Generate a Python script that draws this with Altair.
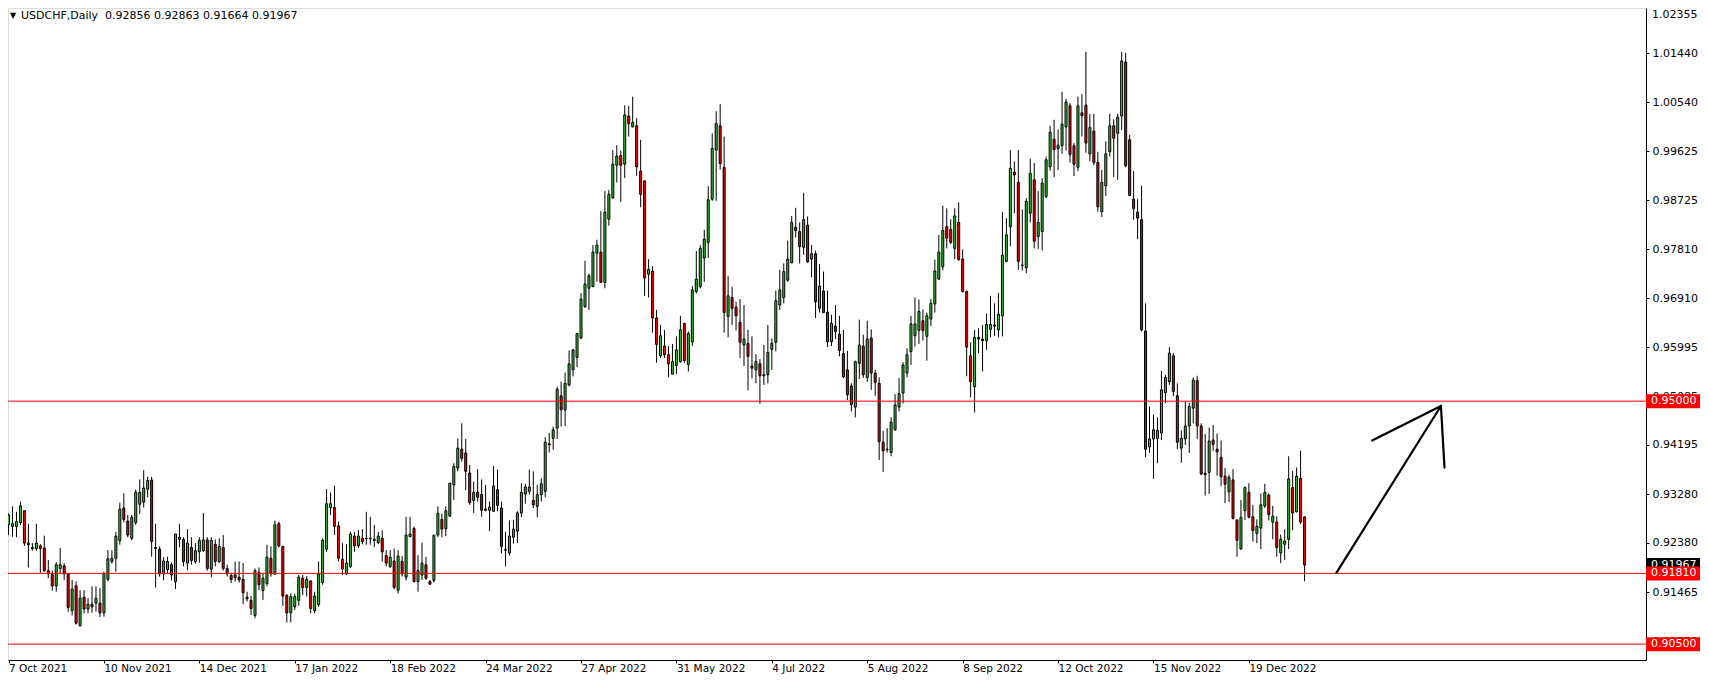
import json
import altair as alt
import pandas as pd

# ---------------- data (USDCHF daily) ----------------
opens = [0.9271,0.9268,0.9268,0.9275,0.9297,0.9237,0.9229,0.9227,0.9232,0.9228,
0.9186,0.9179,0.9158,0.9190,0.9195,0.9180,0.9112,0.9158,0.9084,0.9137,
0.9115,0.9124,0.9126,0.9126,0.9108,0.9170,0.9203,0.9209,0.9242,0.9302,
0.9278,0.9246,0.9275,0.9309,0.9313,0.9337,0.9354,0.9229,0.9226,0.9180,
0.9188,0.9197,0.9166,0.9244,0.9244,0.9200,0.9229,0.9203,0.9221,0.9223,
0.9243,0.9189,0.9235,0.9203,0.9229,0.9190,0.9177,0.9178,0.9174,0.9170,
0.9137,0.9131,0.9103,0.9183,0.9149,0.9162,0.9209,0.9180,0.9273,0.9231,
0.9140,0.9108,0.9119,0.9131,0.9172,0.9155,0.9167,0.9112,0.9123,0.9164,
0.9226,0.9303,0.9303,0.9269,0.9207,0.9180,0.9194,0.9250,0.9232,0.9246,
0.9246,0.9245,0.9244,0.9238,0.9246,0.9214,0.9194,0.9204,0.9150,0.9203,
0.9174,0.9249,0.9264,0.9166,0.9178,0.9197,0.9166,0.9168,0.9252,0.9281,
0.9264,0.9287,0.9345,0.9376,0.9411,0.9404,0.9367,0.9316,0.9331,0.9327,
0.9300,0.9298,0.9296,0.9336,0.9302,0.9225,0.9219,0.9248,0.9259,0.9293,
0.9328,0.9333,0.9316,0.9305,0.9327,0.9333,0.9421,0.9431,0.9450,0.9510,
0.9484,0.9530,0.9558,0.9581,0.9617,0.9675,0.9709,0.9712,0.9774,0.9776,
0.9720,0.9837,0.9876,0.9937,0.9955,0.9939,1.0028,1.0008,1.0010,0.9926,
0.9908,0.9735,0.9741,0.9654,0.9584,0.9602,0.9586,0.9550,0.9566,0.9573,
0.9644,0.9568,0.9610,0.9703,0.9712,0.9765,0.9794,0.9874,0.9965,1.0010,
0.9933,0.9657,0.9692,0.9674,0.9646,0.9604,0.9607,0.9565,0.9558,0.9569,
0.9547,0.9549,0.9596,0.9609,0.9678,0.9692,0.9724,0.9756,0.9822,0.9814,
0.9785,0.9826,0.9763,0.9773,0.9672,0.9704,0.9665,0.9610,0.9639,0.9624,
0.9588,0.9558,0.9528,0.9489,0.9570,0.9602,0.9544,0.9617,0.9552,0.9533,
0.9424,0.9411,0.9405,0.9447,0.9489,0.9515,0.9552,0.9592,0.9621,0.9631,
0.9649,0.9620,0.9652,0.9680,0.9726,0.9749,0.9823,0.9818,0.9783,0.9831,
0.9763,0.9703,0.9584,0.9527,0.9615,0.9615,0.9612,0.9633,0.9639,0.9632,
0.9658,0.9759,0.9823,0.9924,0.9905,0.9752,0.9747,0.9848,0.9910,0.9805,
0.9814,0.9879,0.9934,0.9985,0.9968,0.9973,1.0008,1.0047,0.9973,0.9933,
1.0034,1.0048,0.9958,1.0000,0.9942,0.9851,0.9899,0.9962,1.0010,0.9996,
1.0028,1.0128,0.9984,0.9874,0.9850,0.9836,0.9630,0.9415,0.9430,0.9431,
0.9441,0.9516,0.9536,0.9584,0.9510,0.9413,0.9430,0.9454,0.9487,0.9538,
0.9454,0.9366,0.9368,0.9428,0.9411,0.9396,0.9361,0.9332,0.9354,0.9280,
0.9226,0.9297,0.9331,0.9286,0.9255,0.9265,0.9306,0.9326,0.9276,0.9276,
0.9219,0.9235,0.9244,0.9340,0.9295,0.9357,0.92856]

highs = [0.9292,0.9305,0.9295,0.9314,0.9297,0.9273,0.9237,0.9273,0.9235,0.9251,
0.9206,0.9186,0.9202,0.9228,0.9200,0.9180,0.9169,0.9166,0.9150,0.9150,
0.9135,0.9157,0.9157,0.9154,0.9184,0.9224,0.9224,0.9258,0.9312,0.9329,
0.9289,0.9289,0.9336,0.9355,0.9372,0.9360,0.9360,0.9273,0.9231,0.9211,
0.9212,0.9201,0.9254,0.9273,0.9248,0.9263,0.9248,0.9237,0.9248,0.9293,
0.9248,0.9248,0.9244,0.9246,0.9252,0.9197,0.9182,0.9203,0.9203,0.9200,
0.9147,0.9139,0.9190,0.9192,0.9182,0.9234,0.9231,0.9279,0.9277,0.9232,
0.9143,0.9144,0.9143,0.9178,0.9178,0.9176,0.9168,0.9147,0.9203,0.9246,
0.9337,0.9331,0.9343,0.9277,0.9237,0.9235,0.9258,0.9258,0.9261,0.9263,
0.9295,0.9286,0.9271,0.9258,0.9261,0.9224,0.9224,0.9227,0.9224,0.9213,
0.9286,0.9286,0.9268,0.9215,0.9238,0.9212,0.9169,0.9252,0.9305,0.9292,
0.9305,0.9349,0.9385,0.9431,0.9459,0.9430,0.9382,0.9351,0.9374,0.9355,
0.9345,0.9314,0.9380,0.9373,0.9314,0.9258,0.9279,0.9280,0.9296,0.9348,
0.9347,0.9373,0.9370,0.9345,0.9357,0.9433,0.9441,0.9453,0.9527,0.9536,
0.9553,0.9594,0.9596,0.9626,0.9700,0.9760,0.9736,0.9789,0.9799,0.9852,
0.9889,0.9891,0.9965,0.9974,0.9964,1.0048,1.0047,1.0064,1.0024,0.9984,
0.9908,0.9763,0.9750,0.9669,0.9641,0.9632,0.9602,0.9606,0.9620,0.9658,
0.9645,0.9629,0.9713,0.9778,0.9789,0.9817,0.9898,0.9996,1.0037,1.0050,
0.9990,0.9732,0.9712,0.9684,0.9689,0.9678,0.9632,0.9620,0.9587,0.9578,
0.9604,0.9641,0.9616,0.9705,0.9743,0.9755,0.9797,0.9843,0.9858,0.9831,
0.9886,0.9842,0.9789,0.9779,0.9754,0.9740,0.9705,0.9660,0.9678,0.9658,
0.9632,0.9593,0.9533,0.9575,0.9651,0.9623,0.9649,0.9633,0.9558,0.9544,
0.9445,0.9450,0.9470,0.9513,0.9543,0.9572,0.9598,0.9658,0.9692,0.9688,
0.9670,0.9664,0.9689,0.9762,0.9808,0.9862,0.9857,0.9837,0.9857,0.9868,
0.9781,0.9705,0.9609,0.9632,0.9635,0.9641,0.9662,0.9695,0.9681,0.9700,
0.9850,0.9839,0.9965,0.9944,0.9965,0.9855,0.9876,0.9949,0.9941,0.9889,
0.9913,0.9953,1.0010,1.0021,1.0003,1.0073,1.0060,1.0052,0.9978,1.0064,
1.0069,1.0147,1.0032,1.0032,0.9962,0.9928,0.9981,1.0032,1.0022,1.0032,
1.0147,1.0145,0.9993,0.9926,0.9874,0.9899,0.9681,0.9490,0.9475,0.9470,
0.9556,0.9549,0.9600,0.9589,0.9533,0.9446,0.9499,0.9497,0.9544,0.9547,
0.9459,0.9439,0.9451,0.9456,0.9440,0.9427,0.9376,0.9364,0.9374,0.9281,
0.9317,0.9342,0.9348,0.9308,0.9281,0.9329,0.9347,0.9329,0.9306,0.9287,
0.9253,0.9263,0.9398,0.9371,0.9377,0.9408,0.92863]

lows = [0.9252,0.9249,0.9248,0.9271,0.9232,0.9192,0.9223,0.9223,0.9182,0.9184,
0.9172,0.9149,0.9147,0.9181,0.9169,0.9110,0.9103,0.9086,0.9083,0.9107,
0.9107,0.9108,0.9110,0.9100,0.9101,0.9166,0.9199,0.9184,0.9234,0.9275,
0.9248,0.9242,0.9271,0.9291,0.9303,0.9322,0.9212,0.9155,0.9175,0.9168,
0.9181,0.9168,0.9152,0.9229,0.9194,0.9187,0.9197,0.9199,0.9201,0.9221,
0.9186,0.9174,0.9194,0.9200,0.9186,0.9175,0.9163,0.9166,0.9164,0.9124,
0.9129,0.9104,0.9098,0.9150,0.9132,0.9157,0.9175,0.9178,0.9229,0.9121,
0.9090,0.9090,0.9113,0.9121,0.9141,0.9138,0.9107,0.9107,0.9119,0.9160,
0.9221,0.9289,0.9252,0.9203,0.9178,0.9178,0.9191,0.9221,0.9228,0.9235,
0.9234,0.9234,0.9230,0.9235,0.9203,0.9194,0.9191,0.9152,0.9144,0.9175,
0.9168,0.9248,0.9164,0.9147,0.9169,0.9169,0.9160,0.9164,0.9248,0.9248,
0.9250,0.9286,0.9317,0.9370,0.9388,0.9335,0.9308,0.9293,0.9314,0.9286,
0.9296,0.9259,0.9296,0.9296,0.9218,0.9194,0.9214,0.9236,0.9237,0.9285,
0.9310,0.9327,0.9302,0.9285,0.9314,0.9322,0.9405,0.9410,0.9430,0.9453,
0.9454,0.9527,0.9546,0.9563,0.9615,0.9673,0.9669,0.9712,0.9721,0.9720,
0.9709,0.9825,0.9876,0.9905,0.9869,0.9913,0.9990,1.0007,0.9917,0.9859,
0.9695,0.9692,0.9627,0.9571,0.9580,0.9580,0.9544,0.9550,0.9550,0.9571,
0.9571,0.9555,0.9602,0.9699,0.9709,0.9721,0.9765,0.9871,0.9871,0.9929,
0.9627,0.9618,0.9641,0.9631,0.9580,0.9565,0.9520,0.9542,0.9533,0.9495,
0.9530,0.9533,0.9558,0.9592,0.9669,0.9681,0.9721,0.9756,0.9803,0.9755,
0.9771,0.9756,0.9729,0.9654,0.9664,0.9663,0.9600,0.9602,0.9615,0.9583,
0.9543,0.9502,0.9481,0.9470,0.9541,0.9543,0.9536,0.9521,0.9510,0.9391,
0.9369,0.9405,0.9398,0.9445,0.9481,0.9496,0.9544,0.9567,0.9601,0.9606,
0.9612,0.9575,0.9639,0.9664,0.9725,0.9742,0.9783,0.9791,0.9763,0.9760,
0.9701,0.9546,0.9507,0.9479,0.9589,0.9555,0.9595,0.9618,0.9621,0.9618,
0.9620,0.9757,0.9787,0.9848,0.9743,0.9742,0.9737,0.9831,0.9783,0.9782,
0.9779,0.9876,0.9927,0.9915,0.9928,0.9958,0.9964,0.9942,0.9917,0.9926,
0.9990,0.9960,0.9944,0.9937,0.9851,0.9841,0.9880,0.9953,0.9915,0.9910,
1.0002,0.9933,0.9880,0.9836,0.9800,0.9629,0.9396,0.9404,0.9356,0.9385,
0.9428,0.9496,0.9530,0.9509,0.9411,0.9386,0.9419,0.9404,0.9459,0.9430,
0.9363,0.9325,0.9328,0.9408,0.9362,0.9343,0.9311,0.9313,0.9281,0.9212,
0.9226,0.9280,0.9283,0.9240,0.9237,0.9226,0.9302,0.9279,0.9244,0.9212,
0.9200,0.9206,0.9226,0.9261,0.9294,0.9272,0.91664]

closes = [0.9289,0.9273,0.9277,0.9306,0.9237,0.9234,0.9227,0.9237,0.9227,0.9186,
0.9180,0.9158,0.9197,0.9197,0.9180,0.9118,0.9152,0.9089,0.9135,0.9115,
0.9124,0.9119,0.9135,0.9108,0.9181,0.9208,0.9209,0.9250,0.9300,0.9281,
0.9252,0.9285,0.9331,0.9331,0.9339,0.9353,0.9240,0.9227,0.9180,0.9204,
0.9203,0.9178,0.9254,0.9248,0.9203,0.9237,0.9205,0.9223,0.9242,0.9243,
0.9190,0.9242,0.9203,0.9231,0.9190,0.9180,0.9170,0.9173,0.9169,0.9145,
0.9134,0.9116,0.9186,0.9160,0.9172,0.9211,0.9180,0.9271,0.9232,0.9139,
0.9108,0.9138,0.9138,0.9174,0.9155,0.9170,0.9116,0.9139,0.9180,0.9242,
0.9310,0.9310,0.9268,0.9209,0.9189,0.9200,0.9254,0.9232,0.9250,0.9240,
0.9245,0.9246,0.9242,0.9250,0.9221,0.9200,0.9211,0.9155,0.9213,0.9180,
0.9252,0.9254,0.9166,0.9186,0.9200,0.9172,0.9161,0.9252,0.9292,0.9263,
0.9297,0.9348,0.9379,0.9413,0.9394,0.9370,0.9312,0.9331,0.9322,0.9298,
0.9298,0.9304,0.9343,0.9307,0.9231,0.9224,0.9250,0.9263,0.9293,0.9331,
0.9341,0.9341,0.9308,0.9327,0.9347,0.9424,0.9419,0.9447,0.9522,0.9484,
0.9533,0.9569,0.9595,0.9625,0.9689,0.9717,0.9732,0.9776,0.9789,0.9720,
0.9850,0.9883,0.9939,0.9954,0.9937,1.0030,1.0014,1.0016,0.9934,0.9883,
0.9728,0.9744,0.9654,0.9605,0.9621,0.9586,0.9569,0.9573,0.9595,0.9632,
0.9575,0.9625,0.9706,0.9726,0.9783,0.9800,0.9873,0.9968,1.0014,0.9940,
0.9664,0.9695,0.9672,0.9658,0.9609,0.9615,0.9583,0.9561,0.9573,0.9547,
0.9549,0.9590,0.9607,0.9686,0.9706,0.9740,0.9763,0.9831,0.9816,0.9786,
0.9836,0.9758,0.9773,0.9684,0.9713,0.9664,0.9610,0.9644,0.9629,0.9594,
0.9545,0.9512,0.9494,0.9573,0.9604,0.9549,0.9615,0.9552,0.9535,0.9425,
0.9408,0.9410,0.9461,0.9493,0.9514,0.9567,0.9586,0.9643,0.9643,0.9666,
0.9631,0.9658,0.9681,0.9741,0.9776,0.9816,0.9802,0.9794,0.9843,0.9762,
0.9703,0.9600,0.9536,0.9618,0.9618,0.9612,0.9642,0.9642,0.9641,0.9661,
0.9770,0.9808,0.9931,0.9919,0.9759,0.9751,0.9870,0.9922,0.9796,0.9831,
0.9904,0.9947,0.9998,0.9966,0.9974,1.0013,1.0054,0.9957,0.9939,1.0047,
1.0029,0.9978,1.0007,0.9942,0.9860,0.9905,0.9958,1.0010,0.9987,1.0026,
1.0130,0.9936,0.9881,0.9857,0.9839,0.9632,0.9411,0.9430,0.9447,0.9446,
0.9521,0.9544,0.9589,0.9518,0.9424,0.9431,0.9454,0.9490,0.9539,0.9454,
0.9365,0.9364,0.9426,0.9420,0.9406,0.9360,0.9346,0.9359,0.9283,0.9242,
0.9285,0.9340,0.9285,0.9260,0.9268,0.9308,0.9331,0.9290,0.9287,0.9229,
0.9244,0.9241,0.9356,0.9293,0.9361,0.9276,0.91967]

tick_bars = [0, 24, 48, 72, 96, 120, 144, 168, 192, 216, 240, 264, 288, 312]
tick_labels = ["7 Oct 2021", "10 Nov 2021", "14 Dec 2021", "17 Jan 2022",
               "18 Feb 2022", "24 Mar 2022", "27 Apr 2022", "31 May 2022",
               "4 Jul 2022", "5 Aug 2022", "8 Sep 2022", "12 Oct 2022",
               "15 Nov 2022", "19 Dec 2022"]
top_price_label = "1.02355"
price_ticks = [1.01440, 1.00540, 0.99625, 0.98725, 0.97810, 0.96910,
               0.95995, 0.95085, 0.94195, 0.93280, 0.92380, 0.91465, 0.90550]
level_prices = [0.95000, 0.91810, 0.90500]
level_texts = ["0.95000", "0.91810", "0.90500"]
last_price = 0.91967
header = "USDCHF,Daily\u00a0\u00a00.92856 0.92863 0.91664 0.91967"

arrow_seg = [0, 0, 1, 1, 2, 2]
arrow_bar = [334.0, 360.3, 343.0, 360.3, 360.3, 361.2]
arrow_price = [0.9182, 0.9491, 0.9427, 0.9491, 0.9491, 0.9377]

# ---------------- chart ----------------
W, H = 1638, 652
RP, BP = 54, 16          # room for right price labels / bottom date labels
GREEN, RED = "#33c833", "#ff0000"

n = len(closes)
df = pd.DataFrame({
    "i": list(range(n)),
    "open": opens[:n], "high": highs[:n], "low": lows[:n], "close": closes,
})
df["dir"] = ["up" if c > o else "down" for o, c in zip(df["open"], df["close"])]

xs = alt.Scale(domain=[1.125, 410.625], nice=False, zero=False)
ys = alt.Scale(domain=[0.90206, 1.02281], nice=False, zero=False)

label_expr = "{}[indexof({}, datum.value)]".format(json.dumps(tick_labels), json.dumps(tick_bars))

x_axis = alt.Axis(values=tick_bars, labelExpr=label_expr, title=None, grid=False,
                  labelAlign="left", labelBaseline="top", labelPadding=0, tickSize=3,
                  labelFont="DejaVu Sans", labelFontSize=10.5, labelColor="black",
                  tickColor="black", domainColor="black", labelFlush=False,
                  labelOverlap=False, labelBound=False)
y_axis = alt.Axis(values=price_ticks, format=".5f", orient="right", title=None, grid=False,
                  labelAlign="left", labelPadding=3, tickSize=3,
                  labelFont="DejaVu Sans", labelFontSize=11, labelColor="black",
                  tickColor="black", domainColor="black", labelOverlap=False,
                  labelFlush=False, labelBound=False)

base = alt.Chart(df)
wicks = base.mark_rule(color="black", strokeWidth=1, clip=True).encode(
    x=alt.X("i:Q", scale=xs, axis=x_axis),
    y=alt.Y("low:Q", scale=ys, axis=y_axis),
    y2="high:Q",
)
bodies = base.mark_bar(width=2, stroke="black", strokeWidth=1, clip=True).encode(
    x=alt.X("i:Q", scale=xs),
    y=alt.Y("open:Q", scale=ys),
    y2="close:Q",
    color=alt.Color("dir:N", scale=alt.Scale(domain=["up", "down"], range=[GREEN, RED]),
                    legend=None),
)

lv = pd.DataFrame({"p": level_prices, "t": level_texts})
levels = alt.Chart(lv).mark_rule(color=RED, strokeWidth=1).encode(
    y=alt.Y("p:Q", scale=ys))

adf = pd.DataFrame({"seg": arrow_seg, "i": arrow_bar, "p": arrow_price})
arrow = alt.Chart(adf).mark_line(color="black", strokeWidth=2.2, strokeCap="round").encode(
    x=alt.X("i:Q", scale=xs), y=alt.Y("p:Q", scale=ys), detail="seg:N")

lp = pd.DataFrame({"p": [last_price], "t": [f"{last_price:.5f}"]})
last_box = alt.Chart(lp).mark_tick(orient="horizontal", thickness=14, size=RP,
                                    color="black", opacity=1).encode(
    y=alt.Y("p:Q", scale=ys), x=alt.value(W + RP / 2))
last_txt = alt.Chart(lp).mark_text(align="left", baseline="middle", color="white",
                                   font="DejaVu Sans", fontSize=11).encode(
    y=alt.Y("p:Q", scale=ys), x=alt.value(W + 5), text="t:N")

lvl_box = alt.Chart(lv).mark_tick(orient="horizontal", thickness=14, size=RP,
                                   color=RED, opacity=1).encode(
    y=alt.Y("p:Q", scale=ys), x=alt.value(W + RP / 2))
lvl_txt = alt.Chart(lv).mark_text(align="left", baseline="middle", color="white",
                                  font="DejaVu Sans", fontSize=11).encode(
    y=alt.Y("p:Q", scale=ys), x=alt.value(W + 5), text="t:N")

hdr = pd.DataFrame({"t": [header], "tri": ["\u25bc"], "top": [top_price_label]})
hdr_txt = alt.Chart(hdr).mark_text(align="left", baseline="middle", color="black",
                                   font="DejaVu Sans", fontSize=11).encode(
    x=alt.value(13), y=alt.value(7.5), text="t:N")
hdr_tri = alt.Chart(hdr).mark_text(align="center", baseline="middle", color="black",
                                   font="DejaVu Sans", fontSize=8).encode(
    x=alt.value(5), y=alt.value(7.5), text="tri:N")
top_lbl = alt.Chart(hdr).mark_text(align="left", baseline="top", color="black",
                                   font="DejaVu Sans", fontSize=11).encode(
    x=alt.value(W + 6), y=alt.value(1), text="top:N")

chart = alt.layer(
    wicks, bodies, levels, arrow, last_box, last_txt, lvl_box, lvl_txt,
    hdr_tri, hdr_txt, top_lbl
).properties(
    width=W, height=H,
    autosize=alt.AutoSizeParams(type="none"),
    padding={"left": 0, "top": 0, "right": RP, "bottom": BP},
).configure_view(stroke=None).configure(background="white")

chart.save("out.html", embed_options={"renderer": "svg", "actions": False})
